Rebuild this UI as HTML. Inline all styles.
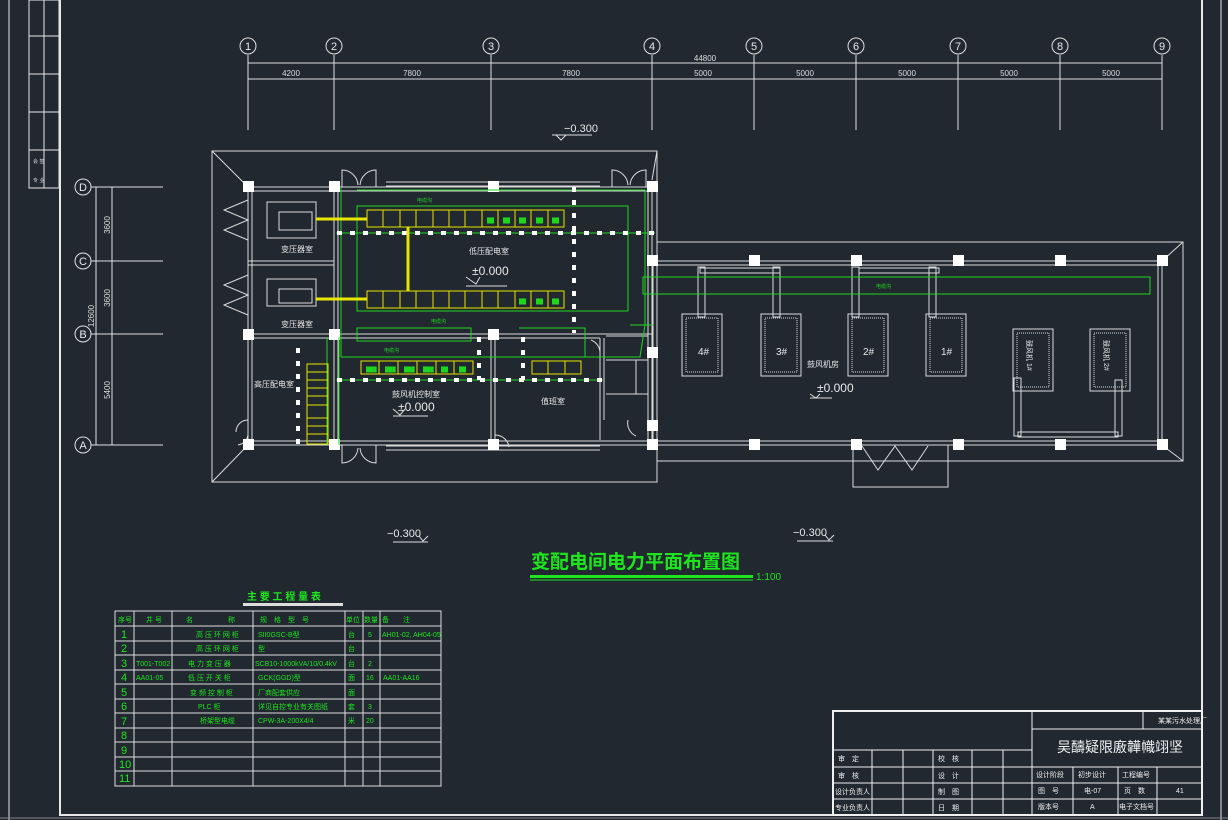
<!DOCTYPE html>
<html><head><meta charset="utf-8"><style>
html,body{margin:0;padding:0;background:#212830;}
svg{display:block}
text{font-family:"Liberation Sans","Noto Sans CJK SC",sans-serif;}
</style></head><body>
<svg width="1228" height="820" viewBox="0 0 1228 820" xmlns="http://www.w3.org/2000/svg">
<rect width="1228" height="820" fill="#212830"/>
<g stroke="#e8e8e8" fill="none">
<line x1="9" y1="0" x2="9" y2="820" stroke-width="1"/>
<line x1="60" y1="0" x2="60" y2="816" stroke-width="2"/>
<line x1="60" y1="815" x2="1202" y2="815" stroke-width="2"/>
<line x1="1202" y1="0" x2="1202" y2="816" stroke-width="2"/>
<line x1="1221" y1="0" x2="1221" y2="820" stroke-width="1"/>
<line x1="0" y1="818" x2="1228" y2="818" stroke-width="1" stroke="#888"/>
<rect x="29" y="0" width="30" height="188" stroke-width="1"/>
<line x1="44" y1="0" x2="44" y2="188"/>
<line x1="29" y1="36" x2="59" y2="36"/><line x1="29" y1="74" x2="59" y2="74"/>
<line x1="29" y1="112" x2="59" y2="112"/><line x1="29" y1="150" x2="59" y2="150"/>
</g>
<g fill="#ddd" font-size="5"><text x="33" y="163">会 签</text><text x="33" y="182">专 业</text></g>
<g stroke="#e0e0e0" fill="none" stroke-width="1">
<line x1="248" y1="63" x2="1162" y2="63"/>
<line x1="248" y1="79" x2="1162" y2="79"/>
<line x1="248" y1="55" x2="248" y2="130"/><line x1="334" y1="55" x2="334" y2="130"/>
<line x1="491" y1="55" x2="491" y2="130"/><line x1="652" y1="55" x2="652" y2="130"/>
<line x1="754" y1="55" x2="754" y2="130"/><line x1="856" y1="55" x2="856" y2="130"/>
<line x1="958" y1="55" x2="958" y2="130"/><line x1="1060" y1="55" x2="1060" y2="130"/>
<line x1="1162" y1="55" x2="1162" y2="130"/>
<circle cx="248" cy="46" r="8"/><circle cx="334" cy="46" r="8"/><circle cx="491" cy="46" r="8"/>
<circle cx="652" cy="46" r="8"/><circle cx="754" cy="46" r="8"/><circle cx="856" cy="46" r="8"/>
<circle cx="958" cy="46" r="8"/><circle cx="1060" cy="46" r="8"/><circle cx="1162" cy="46" r="8"/>
<line x1="96" y1="187" x2="96" y2="445"/><line x1="112" y1="187" x2="112" y2="445"/>
<line x1="91" y1="187" x2="163" y2="187"/><line x1="91" y1="261" x2="163" y2="261"/>
<line x1="91" y1="334" x2="163" y2="334"/><line x1="91" y1="445" x2="163" y2="445"/>
<circle cx="83" cy="187" r="8"/><circle cx="83" cy="261" r="8"/><circle cx="83" cy="334" r="8"/><circle cx="83" cy="445" r="8"/>
</g>
<g fill="#e8e8e8" font-size="11" text-anchor="middle">
<text x="248" y="50">1</text><text x="334" y="50">2</text><text x="491" y="50">3</text><text x="652" y="50">4</text>
<text x="754" y="50">5</text><text x="856" y="50">6</text><text x="958" y="50">7</text><text x="1060" y="50">8</text><text x="1162" y="50">9</text>
<text x="83" y="191">D</text><text x="83" y="265">C</text><text x="83" y="338">B</text><text x="83" y="449">A</text>
</g>
<g fill="#ddd" font-size="8" text-anchor="middle">
<text x="705" y="61">44800</text>
<text x="291" y="76">4200</text><text x="412" y="76">7800</text><text x="571" y="76">7800</text>
<text x="703" y="76">5000</text><text x="805" y="76">5000</text><text x="907" y="76">5000</text><text x="1009" y="76">5000</text><text x="1111" y="76">5000</text>
<text transform="translate(110,225) rotate(-90)">3600</text>
<text transform="translate(110,298) rotate(-90)">3600</text>
<text transform="translate(110,390) rotate(-90)">5400</text>
<text transform="translate(94,316) rotate(-90)">12600</text>
</g>
<g fill="none" stroke="#ddd">
<path d="M552 135 L592 135 M556 135 L561 140 L566 135"/>
<path d="M393 542 L428 542 M419 536 L423 541 L428 536"/>
<path d="M797 541 L833 541 M825 535 L829 540 L834 535"/>
<path d="M466 286 L507 286 M466 277 L476 284 L480 277"/>
<path d="M393 416 L428 416 M393 409 L400 415 L405 409"/>
<path d="M810 398 L832 398 M810 394 L816 398 L820 394"/>
</g>
<g fill="#e8e8e8" font-size="11">
<text x="564" y="132">−0.300</text><text x="387" y="537">−0.300</text><text x="793" y="536">−0.300</text>
<text x="472" y="275" font-size="12">±0.000</text><text x="398" y="411" font-size="12">±0.000</text><text x="817" y="392" font-size="12">±0.000</text>
</g>
<g stroke="#dcdcdc" fill="none" stroke-width="1">
<rect x="212" y="151" width="445" height="331"/>
<line x1="212" y1="151" x2="248" y2="187"/><line x1="212" y1="482" x2="248" y2="445"/>
<line x1="657" y1="151" x2="652" y2="180"/>
<rect x="248" y="187" width="404" height="258"/>
<rect x="252" y="191" width="396" height="250"/>
<rect x="657" y="242" width="526" height="219"/>
<line x1="1183" y1="242" x2="1162" y2="261"/><line x1="1183" y1="461" x2="1162" y2="445"/>
<rect x="653" y="261" width="509" height="184"/>
<rect x="657" y="265" width="501" height="176"/>
<path d="M853 445 L853 487 L948 487 L948 445"/>
<path d="M862 446 L878 470 L895 446 L912 470 L928 446"/>
<line x1="334" y1="187" x2="334" y2="445"/><line x1="338" y1="187" x2="338" y2="445"/>
<line x1="248" y1="261" x2="334" y2="261"/><line x1="248" y1="265" x2="334" y2="265"/>
<line x1="248" y1="334" x2="652" y2="334"/><line x1="248" y1="338" x2="600" y2="338"/>
<line x1="491" y1="334" x2="491" y2="445"/><line x1="495" y1="334" x2="495" y2="445"/>
<path d="M600 338 L600 440 M604 338 L604 420 M606 336 L648 336 L648 360 M606 360 L648 360 M636 360 L636 394 L648 394 M606 394 L636 394"/>
<path d="M248 200 L224 210 L248 220 L224 230 L248 240"/>
<path d="M248 275 L224 285 L248 295 L224 305 L248 315"/>
<path d="M248 420 A12 12 0 0 0 236 432 M248 435 A12 12 0 0 1 238 445"/>
<path d="M342 187 L342 170 A16 16 0 0 1 358 185 M376 187 L376 170 A16 16 0 0 0 360 185"/>
<path d="M612 187 L612 170 A16 16 0 0 1 628 185 M646 187 L646 170 A16 16 0 0 0 630 185"/>
<path d="M342 445 L342 463 A16 16 0 0 0 358 448 M376 445 L376 463 A16 16 0 0 1 360 448"/>
<path d="M495 435 A14 14 0 0 1 509 447 M591 340 A14 14 0 0 1 600 352 M628 420 A14 14 0 0 0 636 436"/>
<line x1="386" y1="182" x2="600" y2="182"/><line x1="386" y1="186" x2="600" y2="186"/>
<line x1="386" y1="450" x2="600" y2="450"/><line x1="386" y1="446" x2="600" y2="446"/>
<rect x="682" y="314" width="40" height="62"/><rect x="686" y="318" width="32" height="54" stroke-dasharray="1 1"/>
<rect x="761" y="314" width="40" height="62"/><rect x="765" y="318" width="32" height="54" stroke-dasharray="1 1"/>
<rect x="848" y="314" width="40" height="62"/><rect x="852" y="318" width="32" height="54" stroke-dasharray="1 1"/>
<rect x="926" y="314" width="40" height="62"/><rect x="930" y="318" width="32" height="54" stroke-dasharray="1 1"/>
<rect x="1013" y="329" width="40" height="62"/><rect x="1017" y="333" width="32" height="54" stroke-dasharray="1 1"/>
<rect x="1090" y="329" width="40" height="62"/><rect x="1094" y="333" width="32" height="54" stroke-dasharray="1 1"/>
<rect x="698" y="267" width="7" height="50"/><rect x="773" y="267" width="7" height="50"/>
<rect x="852" y="267" width="7" height="50"/><rect x="929" y="267" width="7" height="50"/>
<rect x="700" y="268" width="80" height="5"/><rect x="859" y="268" width="80" height="5"/>
<rect x="1014" y="378" width="7" height="58"/><rect x="1115" y="380" width="7" height="56"/>
<rect x="1018" y="432" width="100" height="5"/>
<rect x="267" y="202" width="49" height="36"/><rect x="279" y="212" width="33" height="18"/>
<rect x="267" y="279" width="49" height="27"/><rect x="279" y="289" width="33" height="14"/>
</g>
<g fill="#e8e8e8" font-size="7">
<text transform="translate(1027,340) rotate(90)">鼓风机 1#</text>
<text transform="translate(1104,340) rotate(90)">鼓风机 2#</text>
</g>
<g fill="#fff">
<rect x="243" y="181" width="11" height="11"/><rect x="329" y="181" width="11" height="11"/><rect x="488" y="181" width="11" height="11"/><rect x="647" y="181" width="11" height="11"/>
<rect x="243" y="329" width="11" height="11"/><rect x="329" y="329" width="11" height="11"/><rect x="488" y="329" width="11" height="11"/>
<rect x="243" y="439" width="11" height="11"/><rect x="329" y="439" width="11" height="11"/><rect x="488" y="439" width="11" height="11"/><rect x="647" y="439" width="11" height="11"/>
<rect x="647" y="255" width="11" height="11"/><rect x="647" y="347" width="11" height="11"/><rect x="647" y="420" width="11" height="11"/>
<rect x="749" y="255" width="11" height="11"/><rect x="851" y="255" width="11" height="11"/><rect x="953" y="255" width="11" height="11"/><rect x="1055" y="255" width="11" height="11"/><rect x="1157" y="255" width="11" height="11"/>
<rect x="749" y="439" width="11" height="11"/><rect x="851" y="439" width="11" height="11"/><rect x="953" y="439" width="11" height="11"/><rect x="1055" y="439" width="11" height="11"/><rect x="1157" y="439" width="11" height="11"/>
</g>
<g stroke="#1ed61e" fill="none" stroke-width="1">
<line x1="357" y1="190" x2="628" y2="190"/>
<rect x="357" y="206" width="271" height="105"/>
<path d="M341 187 L341 357 M341 357 L640 357 L645 325 M645 190 L645 325 M628 190 L645 190 M630 325 L653 325"/>
<rect x="357" y="328" width="114" height="13"/>
<path d="M519 328 L585 328 L585 357"/>
<line x1="336" y1="233" x2="655" y2="233"/>
<line x1="336" y1="380" x2="603" y2="380"/>
<line x1="339" y1="337" x2="339" y2="445"/><line x1="327" y1="337" x2="327" y2="445"/>
<rect x="643" y="277" width="507" height="17"/>
</g>
<g stroke="#fff" stroke-width="4" stroke-dasharray="5 8" fill="none">
<line x1="337" y1="233" x2="655" y2="233"/>
<line x1="337" y1="380" x2="603" y2="380"/>
<line x1="574" y1="187" x2="574" y2="333"/>
<line x1="479" y1="337" x2="479" y2="380"/><line x1="523" y1="337" x2="523" y2="380"/>
<line x1="298" y1="348" x2="298" y2="445"/>
</g>
<g stroke="#e6e600" fill="none" stroke-width="1">
<rect x="367" y="210" width="197" height="17"/>
<path d="M383 210v17M400 210v17M416 210v17M433 210v17M449 210v17M465 210v17M482 210v17M498 210v17M515 210v17M531 210v17M548 210v17"/>
<rect x="367" y="291" width="197" height="17"/>
<path d="M383 291v17M400 291v17M416 291v17M433 291v17M449 291v17M465 291v17M482 291v17M498 291v17M515 291v17M531 291v17M548 291v17"/>
<rect x="361" y="361" width="112" height="13"/>
<path d="M379 361v13M398 361v13M417 361v13M436 361v13M454 361v13"/>
<rect x="532" y="361" width="49" height="13"/><path d="M548 361v13M565 361v13"/>
<rect x="307" y="364" width="21" height="80"/>
<path d="M307 372h21M307 380h21M307 388h21M307 396h21M307 405h21M307 418h21M307 426h21M307 434h21"/>
<path d="M316 219 H367 M316 299 H367 M408 227 V291" stroke-width="3"/>
</g>
<g fill="#1ed61e" font-size="5">
<text x="487" y="222">██</text><text x="503" y="222">██</text><text x="519" y="222">██</text><text x="536" y="222">██</text><text x="552" y="222">██</text>
<text x="519" y="303">██</text><text x="536" y="303">██</text><text x="552" y="303">██</text>
<text x="366" y="371">███</text><text x="385" y="371">███</text><text x="404" y="371">███</text><text x="423" y="371">███</text><text x="441" y="371">██</text><text x="459" y="371">██</text>
<text x="417" y="202">电缆沟</text><text x="431" y="323">电缆沟</text><text x="384" y="352">电缆沟</text><text x="876" y="288">电缆沟</text>
</g>
<g fill="#e8e8e8" font-size="8">
<text x="281" y="252">变压器室</text><text x="281" y="327">变压器室</text>
<text x="469" y="254">低压配电室</text>
<text x="254" y="387">高压配电室</text>
<text x="392" y="397">鼓风机控制室</text>
<text x="541" y="404">值班室</text>
<text x="807" y="367">鼓风机房</text>
</g>
<g fill="#e8e8e8" font-size="10">
<text x="698" y="355">4#</text><text x="776" y="355">3#</text><text x="863" y="355">2#</text><text x="941" y="355">1#</text>
</g>
<text x="531" y="568" fill="#1ee61e" font-size="19" font-weight="bold">变配电间电力平面布置图</text>
<rect x="530" y="575" width="223" height="3" fill="#1ee61e"/>
<line x1="530" y1="580" x2="753" y2="580" stroke="#1ee61e"/>
<text x="756" y="580" fill="#1ee61e" font-size="10">1:100</text>
<text x="247" y="600" fill="#1ee61e" font-size="10" font-weight="bold">主 要 工 程 量 表</text>
<rect x="243" y="603" width="100" height="3" fill="#ddd"/>
<g stroke="#ddd" fill="none">
<rect x="115" y="611" width="326" height="175"/>
<path d="M134 611v175M172 611v175M253 611v175M345 611v175M363 611v175M380 611v175"/>
<path d="M115 626h326M115 641h326M115 655h326M115 670h326M115 684h326M115 699h326M115 713h326M115 728h326M115 742h326M115 757h326M115 771h326"/>
</g>
<g fill="#1ee61e" font-size="7">
<text x="118" y="622">序号</text><text x="146" y="622">井 号</text><text x="186" y="622">名　　　　　称</text><text x="260" y="622">规　格　型　号</text><text x="346" y="622">单位</text><text x="364" y="622">数量</text><text x="382" y="622">备　　注</text>
<text x="196" y="637">高 压 环 网 柜</text><text x="258" y="637">SII0GSC-B型</text><text x="348" y="637">台</text><text x="368" y="637">5</text><text x="382" y="637">AH01-02, AH04-05</text>
<text x="196" y="651">高 压 环 网 柜</text><text x="258" y="651">型</text><text x="348" y="651">台</text>
<text x="136" y="666">T001-T002</text><text x="188" y="666">电 力 变 压 器</text><text x="255" y="666">SCB10-1000kVA/10/0.4kV</text><text x="348" y="666">台</text><text x="368" y="666">2</text>
<text x="136" y="680">AA01-05</text><text x="188" y="680">低 压 开 关 柜</text><text x="258" y="680">GCK(GGD)型</text><text x="348" y="680">面</text><text x="366" y="680">16</text><text x="383" y="680">AA01-AA16</text>
<text x="190" y="695">变 频 控 制 柜</text><text x="258" y="695">厂商配套供应</text><text x="348" y="695">面</text>
<text x="198" y="709">PLC 柜</text><text x="258" y="709">详见自控专业有关图纸</text><text x="348" y="709">套</text><text x="368" y="709">3</text>
<text x="200" y="723">桥架型电缆</text><text x="258" y="723">CPW-3A-200X4/4</text><text x="348" y="723">米</text><text x="366" y="723">20</text>
</g>
<g fill="#1ee61e" font-size="11">
<text x="121" y="638">1</text><text x="121" y="652">2</text><text x="121" y="667">3</text><text x="121" y="681">4</text><text x="121" y="696">5</text><text x="121" y="710">6</text><text x="121" y="725">7</text><text x="121" y="739">8</text><text x="121" y="754">9</text><text x="119" y="768">10</text><text x="119" y="782">11</text>
</g>
<g stroke="#f0f0f0" fill="none">
<rect x="833" y="711" width="369" height="104" stroke-width="2"/>
<line x1="1032" y1="711" x2="1032" y2="815"/>
<path d="M833 750h199M833 767h369M833 783h369M833 799h369M1032 729h170"/>
<path d="M872 750v65M903 750v65M933 750v65M972 750v65M1003 750v65"/>
<path d="M1073 767v48M1118 767v48M1157 767v48M1143 711v18"/>
</g>
<g fill="#f0f0f0" font-size="7">
<text x="838" y="761">审　定</text><text x="838" y="778">审　核</text><text x="835" y="794">设计负责人</text><text x="835" y="810">专业负责人</text>
<text x="938" y="761">校　核</text><text x="938" y="778">设　计</text><text x="938" y="794">制　图</text><text x="938" y="810">日　期</text>
<text x="1036" y="777">设计阶段</text><text x="1078" y="777">初步设计</text><text x="1122" y="777">工程编号</text>
<text x="1038" y="793">图　号</text><text x="1084" y="793">电-07</text><text x="1124" y="793">页　数</text><text x="1176" y="793">41</text>
<text x="1038" y="809">版本号</text><text x="1090" y="809">A</text><text x="1119" y="809">电子文档号</text>
<text x="1158" y="723">某某污水处理厂</text>
</g>
<text x="1057" y="752" fill="#f0f0f0" font-size="14">吴醻疑限廒韡幟翊坚</text>
</svg>
</body></html>
